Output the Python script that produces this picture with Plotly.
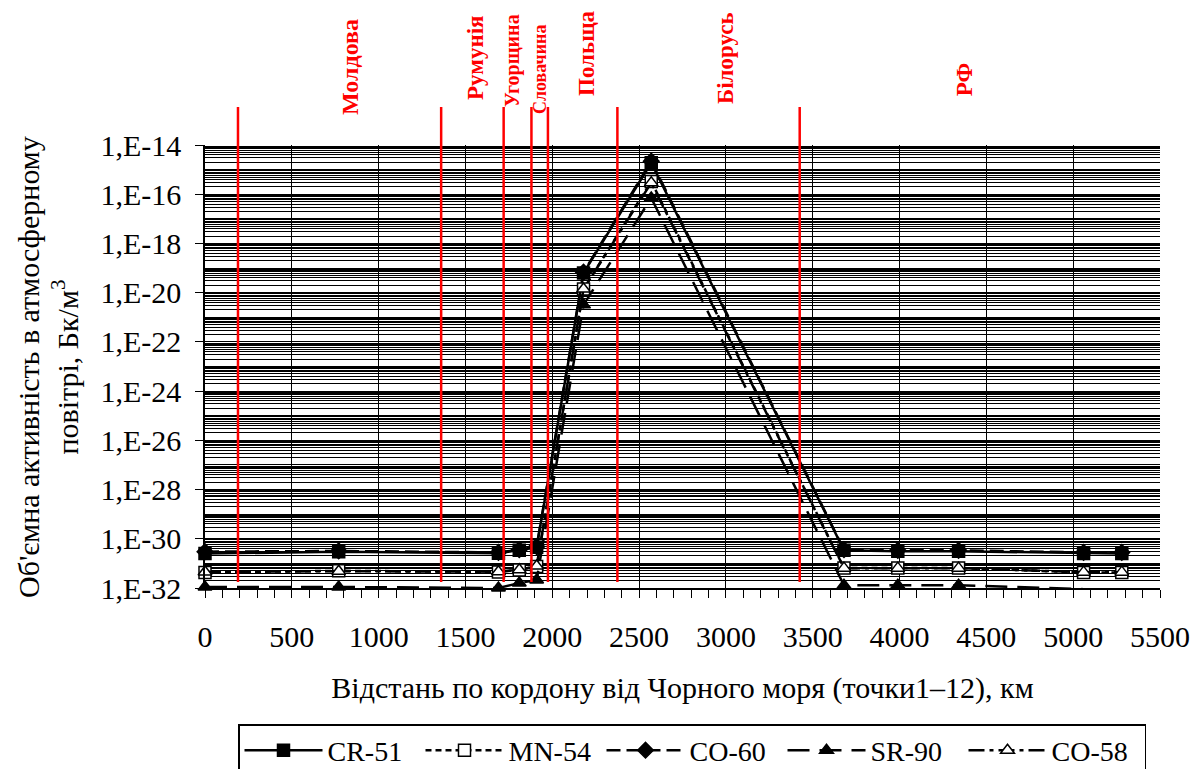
import plotly.graph_objects as go

# ---- data ----
distance_km = [0, 770, 1690, 1810, 1910, 2180, 2570, 3680, 3990, 4340, 5060, 5280]
cr51 = [2.5e-31, 3.0e-31, 2.6e-31, 3.4e-31, 4.5e-31, 6.3e-20, 1.9e-15, 3.4e-31, 3.1e-31, 3.1e-31, 2.5e-31, 2.5e-31]
mn54 = [4.3e-32, 5.0e-32, 4.5e-32, 5.4e-32, 7.5e-32, 1.4e-20, 3.3e-16, 6.5e-32, 6.5e-32, 6.5e-32, 4.3e-32, 4.3e-32]
co60 = [3.0e-31, 3.2e-31, 2.8e-31, 3.6e-31, 4.8e-31, 6.8e-20, 2.2e-15, 3.6e-31, 3.4e-31, 3.4e-31, 2.8e-31, 2.8e-31]
sr90 = [1.1e-32, 1.1e-32, 1.0e-32, 1.6e-32, 2.1e-32, 3.2e-21, 7.0e-17, 1.3e-32, 1.3e-32, 1.3e-32, 0.9e-32, 0.9e-32]
co58 = [4.5e-32, 4.8e-32, 4.6e-32, 5.5e-32, 7.8e-32, 1.4e-20, 2.9e-16, 6.4e-32, 6.4e-32, 6.4e-32, 4.4e-32, 4.4e-32]

border_km = [190, 1360, 1720, 1880, 1975, 2375, 3425]
countries = ["Молдова", "Румунія", "Угорщина", "Словачина", "Польща", "Білорусь", "РФ"]
country_x = [835, 1555, 1774, 1930, 2200, 2995, 4378]
country_ycenter_px = [67, 58, 61, 69, 53, 58, 80]
country_size = [24, 23, 20, 18, 23, 23, 23]

y_major_exp = list(range(-14, -33, -2))
y_tick_vals = [10.0 ** e for e in y_major_exp]
y_tick_text = ["1,E%d" % e for e in y_major_exp]
y_minor_vals = [k * 10.0 ** e for e in range(-32, -14) for k in range(1, 10) if not (k == 1 and e % 2 == 0)]

FONT = "'Liberation Serif', 'Times New Roman', 'DejaVu Serif', serif"
FS = 30

fig = go.Figure()

series = [
    ("CR-51", cr51, "solid", "square", "black"),
    ("MN-54", mn54, "6px,4px", "square", "white"),
    ("CO-60", co60, "14px,6px", "diamond", "black"),
    ("SR-90", sr90, "22px,10px", "triangle-up", "black"),
    ("CO-58", co58, "16px,5px,4px,5px", "triangle-up", "white"),
]
for name, vals, dash, sym, fill in series:
    fig.add_trace(go.Scatter(
        x=distance_km, y=vals, name=name, mode="lines+markers",
        line=dict(color="black", width=2.5, dash=dash),
        marker=dict(symbol=sym, size=12, color=fill, line=dict(color="black", width=1.5)),
        cliponaxis=False,
    ))

# red border lines
for bx in border_km:
    fig.add_shape(type="line", xref="x", yref="paper", x0=bx, x1=bx,
                  y0=(588 - 582) / 443, y1=(588 - 107) / 443,
                  line=dict(color="red", width=2.5), layer="above")

for name, cx, cy, fs in zip(countries, country_x, country_ycenter_px, country_size):
    fig.add_annotation(text="<b>%s</b>" % name, x=cx, xref="x", y=(588 - cy) / 443, yref="paper",
                       textangle=-90, showarrow=False, xanchor="center", yanchor="middle",
                       font=dict(family=FONT, size=fs, color="red"))

fig.add_annotation(text="Об'ємна активність в атмосферному<br>повітрі, Бк/м<sup>3</sup>",
                   x=(48 - 205) / 955, xref="paper", y=(588 - 367) / 443, yref="paper",
                   textangle=-90, showarrow=False, xanchor="center", yanchor="middle",
                   font=dict(family=FONT, size=FS, color="black"))

fig.update_xaxes(
    range=[0, 5500], tick0=0, dtick=500, showgrid=True, gridcolor="black", gridwidth=1,
    ticks="outside", ticklen=8, tickcolor="black", showline=True, linecolor="black", linewidth=1.5,
    zeroline=False, automargin=False, ticklabelstandoff=13,
    minor=dict(dtick=100, ticks="outside", ticklen=8, tickcolor="black", showgrid=False),
    tickfont=dict(family=FONT, size=FS, color="black"),
    title=dict(text="Відстань по кордону від Чорного моря (точки1–12), км",
               font=dict(family=FONT, size=FS, color="black"), standoff=25),
)
fig.update_yaxes(
    type="log", range=[-32, -14], tickmode="array", tickvals=y_tick_vals, ticktext=y_tick_text,
    showgrid=True, gridcolor="black", gridwidth=1.3,
    ticks="outside", ticklen=8, tickcolor="black", showline=True, linecolor="black", linewidth=1.5,
    zeroline=False, automargin=False, ticklabelstandoff=8,
    minor=dict(tickmode="array", tickvals=y_minor_vals, showgrid=True, gridcolor="black", gridwidth=1, ticks=""),
    tickfont=dict(family=FONT, size=FS, color="black"),
)

fig.update_layout(
    width=1195, height=761,
    margin=dict(l=197, r=43, t=137, b=181, autoexpand=False),
    paper_bgcolor="white", plot_bgcolor="white",
    font=dict(family=FONT, size=FS, color="black"),
    showlegend=True,
    legend=dict(orientation="h", x=(238 - 205) / 955, xanchor="left", y=(588 - 724) / 443, yanchor="top",
                bordercolor="black", borderwidth=1.5, font=dict(family=FONT, size=28, color="black"),
                itemwidth=78, entrywidth=88, tracegroupgap=0),
)

fig.write_html("out.html")
